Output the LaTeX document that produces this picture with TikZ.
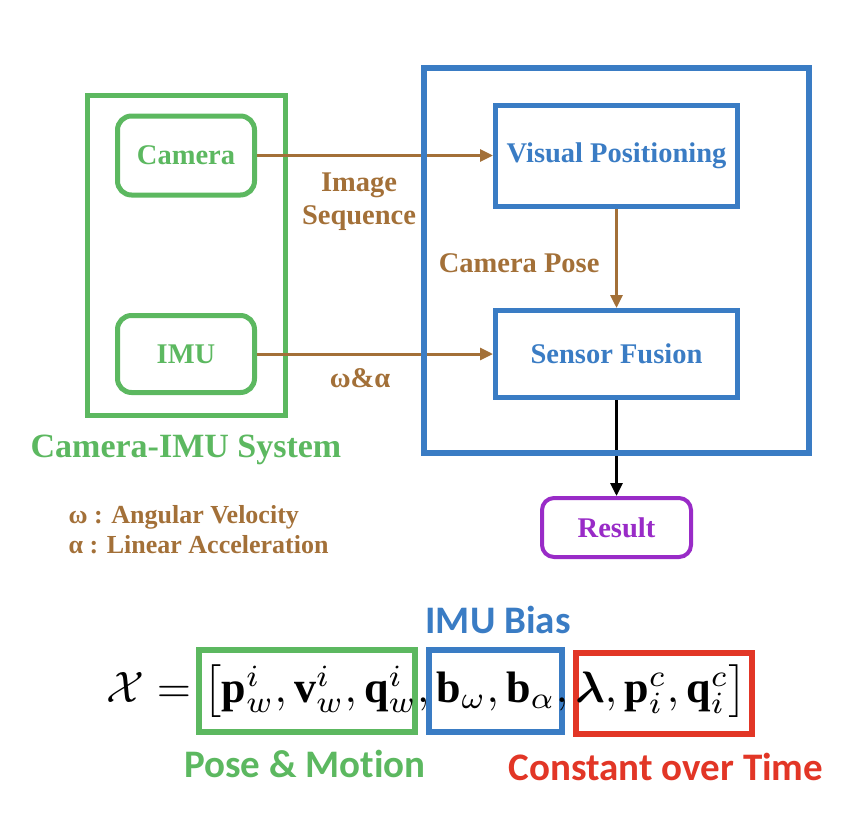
\documentclass[tikz,border=0pt]{standalone}
\usepackage{amsmath}
\usepackage{fontspec}
\setmainfont{Liberation Serif}[BoldFont={Liberation Serif Bold}]
\newfontfamily\timesfont{Liberation Serif}[BoldFont={Liberation Serif Bold}]
\newfontfamily\calfont{Carlito}[Ligatures=NoCommon]
\usepackage{xcolor}
\usetikzlibrary{arrows.meta}

\definecolor{sysgreen}{RGB}{92,184,96}
\definecolor{fuseblue}{RGB}{58,124,196}
\definecolor{linkbrown}{RGB}{163,112,56}
\definecolor{respurple}{RGB}{153,43,199}
\definecolor{constred}{RGB}{226,54,38}

\tikzset{
  boxfont/.style={font=\timesfont\fontsize{28.5}{33}\selectfont\bfseries},
  sensorbox/.style={draw=sysgreen, line width=5pt, rounded corners=14pt, text=sysgreen,
    boxfont, minimum width=137pt},
  stagebox/.style={draw=fuseblue, line width=5pt, text=fuseblue, boxfont, minimum width=242pt},
  flow/.style={draw=linkbrown, line width=3pt, -{Triangle[length=13pt,width=12pt]}},
  flowlabel/.style={text=linkbrown, boxfont, align=center},
  tag/.style={font=\calfont\fontsize{39}{44}\selectfont\bfseries}
}

\begin{document}
\begin{tikzpicture}[x=1pt,y=-1pt]
\useasboundingbox (0,0) rectangle (858,814);

% Camera-IMU system on the left
\node[draw=sysgreen, line width=5pt, minimum width=198pt, minimum height=320pt] (camsys) at (186.5,255.5) {};
\node[sensorbox, minimum height=79pt] (camera) at (186,155.5) {Camera};
\node[sensorbox, minimum height=77pt] (imu) at (186,354) {IMU};
\node[text=sysgreen, font=\timesfont\fontsize{34}{40}\selectfont\bfseries] (camsyslabel) at (186,450) {Camera-IMU System};

% Processing stages on the right
\node[stagebox, minimum height=101pt] (vispos) at (616.5,156) {Visual Positioning};
\node[stagebox, minimum height=87pt] (fusion) at (616.5,354) {Sensor Fusion};
\node[draw=respurple, line width=4pt, rounded corners=12pt, text=respurple, boxfont,
  minimum width=149pt, minimum height=59pt] (result) at (616.5,527.5) {Result};

% Data flow
\draw[flow] (camera.east |- 0,155.5) -- (vispos.west |- 0,155.5);
\draw[flow] (imu.east) -- (imu.east -| vispos.west);
\draw[flow] (vispos.south) -- (fusion.north);
\draw[line width=3pt, -{Triangle[length=13pt,width=12pt]}] (fusion.south) -- (result.north);

% Frame round the stages
\node[draw=fuseblue, line width=6pt, minimum width=385pt, minimum height=385pt] (stages) at (616.5,260.5) {};

% Flow labels
\node[flowlabel] (imgseq) at (359,202) {Image\\Sequence};
\node[flowlabel] (rates) at (360,378) {ω\&α};
\node[flowlabel, anchor=east] (campose) at (603,263) {Camera Pose};

% Legend
\node[text=linkbrown, font=\timesfont\fontsize{26}{30}\selectfont\bfseries, align=left, anchor=west] (legend) at (65,530)
  {ω : Angular Velocity\\α : Linear Acceleration};

% State vector, boxes first so the symbols lie on top
\draw[sysgreen, line width=6pt] (199,650) rectangle (415,732);
\draw[fuseblue, line width=6pt] (429,650) rectangle (562,732);
\draw[constred, line width=6pt] (576,653) rectangle (752,734);
\node[anchor=base west, inner sep=0pt, scale=4.4] (state) at (106,702)
  {$\mathcal{X} = \left[\mathbf{p}_w^i, \mathbf{v}_w^i, \mathbf{q}_w^i, \mathbf{b}_\omega, \mathbf{b}_\alpha, \boldsymbol{\lambda}, \mathbf{p}_i^c, \mathbf{q}_i^c\right]$};

\node[tag, text=fuseblue] (biastag) at (498,620) {IMU Bias};
\node[tag, text=sysgreen] (posetag) at (305,764) {Pose \& Motion};
\node[tag, text=constred] (consttag) at (666,767) {Constant over Time};

\end{tikzpicture}
\end{document}
